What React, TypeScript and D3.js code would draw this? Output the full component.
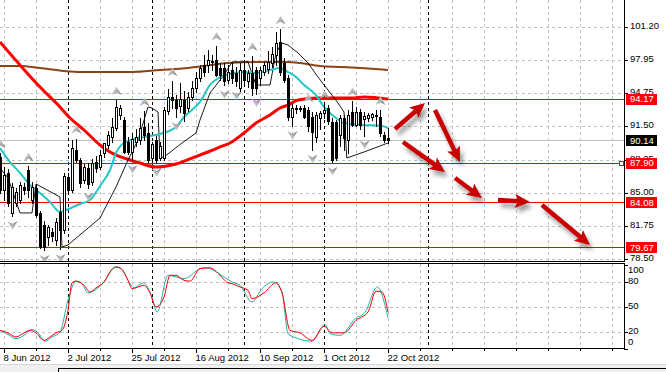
import React from "react";
import * as d3 from "d3";

// ---------- DATA ----------
const barOpen = [88.5,85.27,86.9,82.99,83.97,84.3,85.6,87.23,84.3,85.44,82.99,81.85,80.71,81.2,80.39,83.16,81.36,86.51,85.27,89.18,88.21,86.25,87.4,86.09,88.05,87.56,88.86,89.7,90.5,91.3,92.6,92.1,90.0,89.0,90.0,90.2,91.46,90.8,88.4,90.2,88.4,88.4,93.0,94.4,94.1,93.5,94.07,93.3,94.4,95.2,96.2,97.5,97.5,97.9,98.0,97.2,97.2,96.0,97.0,96.7,95.2,97.0,95.9,96.7,97.0,96.2,96.8,97.1,97.7,98.5,99.7,97.7,96.2,92.4,93.3,93.3,93.3,93.1,92.4,90.45,92.3,92.8,93.3,91.95,91.95,90.7,92.3,90.2,92.9,91.6,92.9,92.2,92.3,92.4,92.5,92.4,90.65,90.4];
const barHigh = [88.9,87.5,87.3,86.0,85.5,86.1,86.0,87.6,86.1,85.9,83.2,82.2,81.9,81.6,82.5,83.3,86.9,86.9,90.16,90.3,88.4,87.8,87.9,88.3,88.6,89.2,89.9,91.0,92.3,94.07,93.6,92.4,90.5,90.8,91.2,92.3,93.0,91.8,90.0,90.6,90.0,93.4,95.1,95.9,94.6,95.7,95.0,94.9,95.9,96.8,97.5,98.5,99.0,98.5,99.4,97.7,97.7,97.5,97.7,97.3,97.7,97.8,97.0,98.4,97.3,97.3,97.8,98.9,99.3,100.7,101.0,98.2,96.5,93.7,93.6,93.5,93.6,93.4,92.9,92.9,93.0,93.7,93.6,92.3,92.1,92.6,92.6,93.1,94.0,93.4,93.2,92.9,92.8,92.8,93.1,93.1,90.9,91.3];
const barLow = [85.0,84.3,83.7,82.7,83.7,84.0,84.9,84.62,84.0,82.6,79.6,79.4,79.9,80.3,79.9,79.5,81.1,85.0,85.1,88.0,85.6,86.0,85.5,85.8,87.0,87.3,88.5,89.4,90.0,91.1,92.2,88.86,88.8,88.2,89.6,89.8,90.2,88.0,88.0,87.9,88.2,88.2,92.7,93.3,92.4,92.9,92.0,93.0,94.1,94.9,95.9,96.4,96.8,97.0,96.4,96.0,95.5,95.7,95.7,95.4,95.0,95.5,95.3,94.6,94.7,95.5,96.5,96.7,97.3,97.5,96.5,95.8,92.1,91.5,92.8,93.0,92.3,91.0,89.2,90.0,91.2,92.3,91.7,88.0,88.2,89.6,89.2,88.9,91.5,91.5,91.2,90.6,92.0,92.1,91.5,90.6,90.0,89.9];
const barClose = [85.27,86.74,83.97,85.6,85.11,85.76,85.27,85.27,85.6,82.83,79.74,79.74,81.69,80.78,82.18,81.36,86.64,85.27,89.35,88.21,85.93,87.5,85.86,87.9,87.4,88.7,89.83,90.65,91.46,93.42,93.3,89.02,89.0,90.3,90.5,91.3,90.65,88.2,89.8,88.2,89.6,93.1,94.4,94.1,93.3,94.2,92.77,94.4,95.2,96.2,97.2,96.8,98.0,97.8,96.5,96.5,95.9,96.85,96.2,95.9,97.0,96.0,96.7,95.2,95.2,97.0,97.5,97.8,98.6,99.6,96.8,96.0,92.4,93.3,93.2,93.25,92.4,91.5,90.9,92.6,92.8,93.1,92.0,88.2,88.4,92.3,90.4,92.6,91.6,92.9,91.6,92.5,92.6,92.7,92.6,90.8,90.2,90.14];

const fractalUp = [0,7,19,29,36,43,54,63,70,77,81,88,95];
const fractalDown = [3,11,15,22,33,39,44,56,59,64,73,78,83,91];

const ma200Idx = [0,5,10,16,20,33,40,47,50,57,65,72,75,80,85,90,97];
const ma200Val = [97.40,97.40,97.2,96.91,96.81,96.81,97.0,97.2,97.35,97.69,97.79,97.79,97.69,97.4,97.3,97.2,97.0];

const ma50Idx = [0,5,10,15,17.5,21,25,27.5,32.5,35,39,44,48,52,55,57.5,61,64,67.5,70,72,74.5,79.5,88,91,94,97];
const ma50Val = [99.74,97.49,95.34,93.39,92.31,91.14,89.67,88.99,88.21,87.91,87.52,87.82,88.40,88.99,89.48,89.87,90.85,91.82,92.61,93.29,93.58,94.07,94.27,94.27,94.37,94.3,94.17];

const ma20Idx = [0,2.5,5,7.5,10,12.5,15,16.5,20,22.5,25,27.5,29,31,36,40,44,46,48.5,50,52.5,55,57.5,61,64,67.5,70,72,74,76,79,81,84,86,91,95.5,97];
const ma20Val = [89.38,88.01,86.94,85.76,84.98,84.10,83.12,83.32,83.91,84.30,85.67,87.23,88.89,89.87,90.46,90.75,91.43,92.41,93.29,93.88,95.54,96.32,96.61,96.81,96.71,97.0,97.2,96.81,96.32,95.54,94.56,93.39,92.31,91.82,91.63,91.53,91.33];

const envIdx = [0,2,5,8,9,15,15.5,17,25,29,32,34.5,37,38,39.5,40,41,45.5,49,50,52.5,56,58,62,64,67.5,69,70.5,72,74.5,77,79.5,82,84.5,86,86.7,91,97];
const envVal = [87.42,86.45,83.03,83.03,85.86,84.59,79.70,79.9,82.54,85.57,88.21,90.16,93.39,93.29,92.9,88.4,88.5,89.87,90.85,92.12,94.76,96.52,97.79,97.79,95.54,95.54,98.67,99.64,99.45,98.67,97.69,96.32,95.05,93.78,92.9,88.4,88.99,89.87];

const stochMainIdx = [0,2,4,6,7.5,9,11,12.5,14,15.5,17,18,19,21,22.5,24,26,27.5,29,30,32,33,36,37.5,39,41,42.5,44,46,47.5,50,52.5,55,57,58,60,62,63,66,69,70.5,72.5,75,78,81,83,86,89,92,94,95.5,97];
const stochMainVal = [22,19,14,19,22,19,10,14,19,22,46,79,81,76,68,73,80,92,98,97,82,72,76,67,50,62,88,88,82,81,96,97,88,79,78,74,70,60,67,79,67,22,19,10,27,19,19,34,44,69,68,44];
const stochSignalIdx = [0,2,4,6,8,9.5,11.3,13,15,17,19,20.5,22,24,26,28.8,30.5,32.5,33.5,35.8,37.5,39.3,42,44,46,50.8,53,56,58,60,63,65.5,68.3,70.5,72,74,78,81.3,82.5,85,88.8,91.3,94.3,97];
const stochSignalVal = [22,17,12,16,23,19,9,14,20,58,81,78,67,71,80,98,95,78,73,79,68,44,88,86,84,97,95,86,80,76,56,72,80,68,18,13,9,29,18,16,36,44,74,37];

const priceTicks = [101.2, 97.95, 94.75, 91.5, 88.25, 85.0, 81.75, 78.5];
const levelLines = [94.17, 87.9, 84.08, 79.67];
const lastPrice = 90.14;
const stochTicks = [100, 80, 50, 20, 0];
const stochGrid = [80, 50, 20];
const dateIdx = [1, 17, 33, 49, 65, 81, 97];
const dateLabels = ["8 Jun 2012", "2 Jul 2012", "25 Jul 2012", "16 Aug 2012", "10 Sep 2012", "1 Oct 2012", "22 Oct 2012"];
const separatorIdx = [17, 38, 61, 81, 107];

// annotation arrows: [fromIdx, fromPrice, toIdx, toPrice]
const arrowFromIdx = [98.75, 108.75, 100.75, 113.75, 124.5, 135.5];
const arrowFromPrice = [91.24, 93.09, 89.97, 86.45, 84.30, 83.81];
const arrowToIdx = [106.25, 115, 111.25, 120.5, 132.5, 147.5];
const arrowToPrice = [93.78, 88.01, 87.03, 84.49, 84.10, 79.9];

// ---------- CHART ----------
const FONT = "'Liberation Sans', Arial, sans-serif";

export default function App() {
  const W = 666, H = 372;
  const plotR = 624;
  const mainBottom = 261.5;
  const subTop = 263.5;
  const subBottom = 348.5;

  const x = d3.scaleLinear().domain([0, 156]).range([0, 624]);
  const y = d3.scaleLinear().domain([78.5, 101.2]).range([259.3, 27.1]);
  const ys = d3.scaleLinear().domain([0, 100]).range([348.7, 265.3]);

  const px = (i: number) => Math.round(x(i));
  const py = (v: number) => Math.round(y(v)) + 0.5;

  const mkLine = (idx: number[], val: number[], sc: any, curve: any) =>
    d3.line<number>().x((_, k) => x(idx[k])).y((v) => sc(v)).curve(curve)(val) || "";

  const gridX = d3.range(1, 156, 8);

  const candles = barOpen.map((o, i) => {
    const c = barClose[i];
    const cx = px(i);
    const top = Math.round(y(Math.max(o, c)));
    const bot = Math.round(y(Math.min(o, c)));
    const bull = c >= o;
    return (
      <g key={i}>
        <line x1={cx + 0.5} x2={cx + 0.5} y1={Math.round(y(barHigh[i]))} y2={Math.round(y(barLow[i])) + 1} stroke="#000" strokeWidth={1} />
        {bull ? (
          <rect x={cx - 0.5} y={top + 0.5} width={2} height={Math.max(bot - top, 1)} fill="#fff" stroke="#000" strokeWidth={1} />
        ) : (
          <rect x={cx - 1} y={top} width={3} height={Math.max(bot - top, 1) + 1} fill="#000" />
        )}
      </g>
    );
  });

  const fractalPath = "M0,-4.5 L5,4 L0,1.5 L-5,4 Z";

  const arrows = arrowFromIdx.map((fi, k) => {
    const x1 = x(fi), y1 = y(arrowFromPrice[k]);
    const x2 = x(arrowToIdx[k]), y2 = y(arrowToPrice[k]);
    const dx = x2 - x1, dy = y2 - y1;
    const len = Math.hypot(dx, dy);
    const ux = dx / len, uy = dy / len;
    const hl = 15, hw = 7;
    const bx = x2 - ux * hl, by = y2 - uy * hl;
    const nx = -uy, ny = ux;
    const head = `M${x2},${y2} L${bx + nx * hw},${by + ny * hw} L${bx + ux * 3},${by + uy * 3} L${bx - nx * hw},${by - ny * hw} Z`;
    return (
      <g key={k} filter="url(#shadow)">
        <line x1={x1} y1={y1} x2={bx + ux * 4} y2={by + uy * 4} stroke="#c80000" strokeWidth={4.5} />
        <path d={head} fill="#c80000" />
      </g>
    );
  });

  return (
    <svg width={W} height={H} style={{ position: "fixed", left: 0, top: 0, background: "#fff" }} fontFamily={FONT}>
      <defs>
        <clipPath id="mainClip"><rect x={0} y={0} width={plotR} height={261} /></clipPath>
        <clipPath id="subClip"><rect x={0} y={264} width={plotR} height={84} /></clipPath>
        <filter id="shadow" x="-50%" y="-50%" width="200%" height="200%">
          <feDropShadow dx={3} dy={5} stdDeviation={2.2} floodColor="#000" floodOpacity={0.38} />
        </filter>
        <linearGradient id="frac" x1="0" x2="1" y1="0" y2="1">
          <stop offset="0" stopColor="#e4e4e4" />
          <stop offset="0.5" stopColor="#b4b4b4" />
          <stop offset="1" stopColor="#7c7c7c" />
        </linearGradient>
      </defs>
      <rect x={0} y={0} width={W} height={H} fill="#fff" />

      {/* grid main */}
      <g clipPath="url(#mainClip)">
        {gridX.map((g) => (
          <line key={"gx" + g} x1={px(g) + 0.5} x2={px(g) + 0.5} y1={0} y2={261} stroke="#c0c0c0" strokeDasharray="3,3" />
        ))}
        {priceTicks.map((t) => (
          <line key={"gy" + t} x1={0} x2={plotR} y1={py(t)} y2={py(t)} stroke="#c0c0c0" strokeDasharray="3,3" />
        ))}
        <line x1={0} x2={plotR} y1={py(lastPrice)} y2={py(lastPrice)} stroke="#c0c0c0" />
        {separatorIdx.map((s) => (
          <line key={"sep" + s} x1={px(s) + 0.5} x2={px(s) + 0.5} y1={0} y2={261} stroke="#000" strokeDasharray="3,3" />
        ))}
        {levelLines.map((l) => (
          <line key={"lv" + l} x1={0} x2={plotR} y1={py(l)} y2={py(l)} stroke="#ff0000" />
        ))}
        <path d={mkLine(ma200Idx, ma200Val, y, d3.curveMonotoneX)} fill="none" stroke="#8b4513" strokeWidth={2} />
        <path d={mkLine(ma50Idx, ma50Val, y, d3.curveMonotoneX)} fill="none" stroke="#ff0000" strokeWidth={3} />
        <path d={mkLine(envIdx, envVal, y, d3.curveLinear)} fill="none" stroke="#000" strokeWidth={0.9} />
        <path d={mkLine(ma20Idx, ma20Val, y, d3.curveMonotoneX)} fill="none" stroke="#22c6c6" strokeWidth={2} />
        {candles}
        {fractalUp.map((i) => (
          <path key={"fu" + i} d={fractalPath} transform={`translate(${px(i) + 0.5},${y(barHigh[i]) - 9})`} fill="url(#frac)" />
        ))}
        {fractalDown.map((i) => (
          <path key={"fd" + i} d={fractalPath} transform={`translate(${px(i) + 0.5},${y(barLow[i]) + 9}) scale(1,-1)`} fill="url(#frac)" />
        ))}
        <rect x={619.5} y={py(87.9) - 2} width={4} height={4} fill="#fff" stroke="#ff0000" />
        {arrows}
      </g>

      {/* sub panel */}
      <g clipPath="url(#subClip)">
        {gridX.map((g) => (
          <line key={"sgx" + g} x1={px(g) + 0.5} x2={px(g) + 0.5} y1={264} y2={348} stroke="#c0c0c0" strokeDasharray="3,3" />
        ))}
        {stochGrid.map((t) => (
          <line key={"sgy" + t} x1={0} x2={plotR} y1={Math.round(ys(t)) + 0.5} y2={Math.round(ys(t)) + 0.5} stroke="#c0c0c0" strokeDasharray="3,3" />
        ))}
        {separatorIdx.map((s) => (
          <line key={"ssep" + s} x1={px(s) + 0.5} x2={px(s) + 0.5} y1={264} y2={348} stroke="#000" strokeDasharray="3,3" />
        ))}
        <path d={mkLine(stochSignalIdx, stochSignalVal, ys, d3.curveMonotoneX)} fill="none" stroke="#20b2aa" strokeWidth={1} />
        <path d={mkLine(stochMainIdx, stochMainVal, ys, d3.curveMonotoneX)} fill="none" stroke="#ff0000" strokeWidth={1} />
      </g>

      {/* frames */}
      <line x1={0} x2={plotR + 1} y1={mainBottom} y2={mainBottom} stroke="#000" />
      <line x1={0} x2={plotR + 1} y1={subTop} y2={subTop} stroke="#000" />
      <line x1={0} x2={plotR + 1} y1={subBottom} y2={subBottom} stroke="#000" />
      <line x1={plotR + 0.5} x2={plotR + 0.5} y1={0} y2={mainBottom} stroke="#000" />
      <line x1={plotR + 0.5} x2={plotR + 0.5} y1={subTop} y2={subBottom} stroke="#000" />

      {/* price axis */}
      {priceTicks.map((t) => (
        <g key={"pt" + t}>
          <line x1={plotR} x2={plotR + 4} y1={py(t)} y2={py(t)} stroke="#000" />
          <text x={630} y={y(t) - 1} dy="0.33em" fontSize={9.5} fill="#000">{t.toFixed(2)}</text>
        </g>
      ))}
      {levelLines.map((l) => (
        <g key={"lb" + l}>
          <rect x={626} y={Math.round(y(l)) - 5} width={31} height={11} fill="#ff0000" />
          <text x={630} y={y(l)} dy="0.35em" fontSize={9.5} fill="#fff">{l.toFixed(2)}</text>
        </g>
      ))}
      <rect x={626} y={Math.round(y(lastPrice)) - 5} width={31} height={11} fill="#000" />
      <text x={630} y={y(lastPrice)} dy="0.35em" fontSize={9.5} fill="#fff">{lastPrice.toFixed(2)}</text>

      {/* stoch axis */}
      {stochTicks.map((t) => (
        <g key={"st" + t}>
          <line x1={plotR} x2={plotR + 4} y1={Math.round(ys(t)) + 0.5} y2={Math.round(ys(t)) + 0.5} stroke="#000" />
          <text x={628} y={t === 100 ? ys(t) + 5 : t === 0 ? ys(t) - 7 : ys(t) - 1} dy="0.33em" fontSize={9.5} fill="#000">{t}</text>
        </g>
      ))}

      {/* date axis */}
      {gridX.map((g) => (
        <line key={"dt" + g} x1={px(g) + 0.5} x2={px(g) + 0.5} y1={349} y2={dateIdx.includes(g) ? 353 : 351} stroke="#000" />
      ))}
      {dateIdx.map((d, k) => (
        <text key={"dl" + d} x={px(d) - 0.5} y={360.5} fontSize={9.5} fill="#000">{dateLabels[k]}</text>
      ))}

      {/* bottom strip */}
      <rect x={0} y={364} width={W} height={8} fill="#f0f0f0" />
      <line x1={0} x2={W} y1={364.5} y2={364.5} stroke="#d8d8d8" />
      <line x1={58} x2={W} y1={368.5} y2={368.5} stroke="#000" />
      <line x1={58.5} x2={58.5} y1={368} y2={372} stroke="#000" />
    </svg>
  );
}
